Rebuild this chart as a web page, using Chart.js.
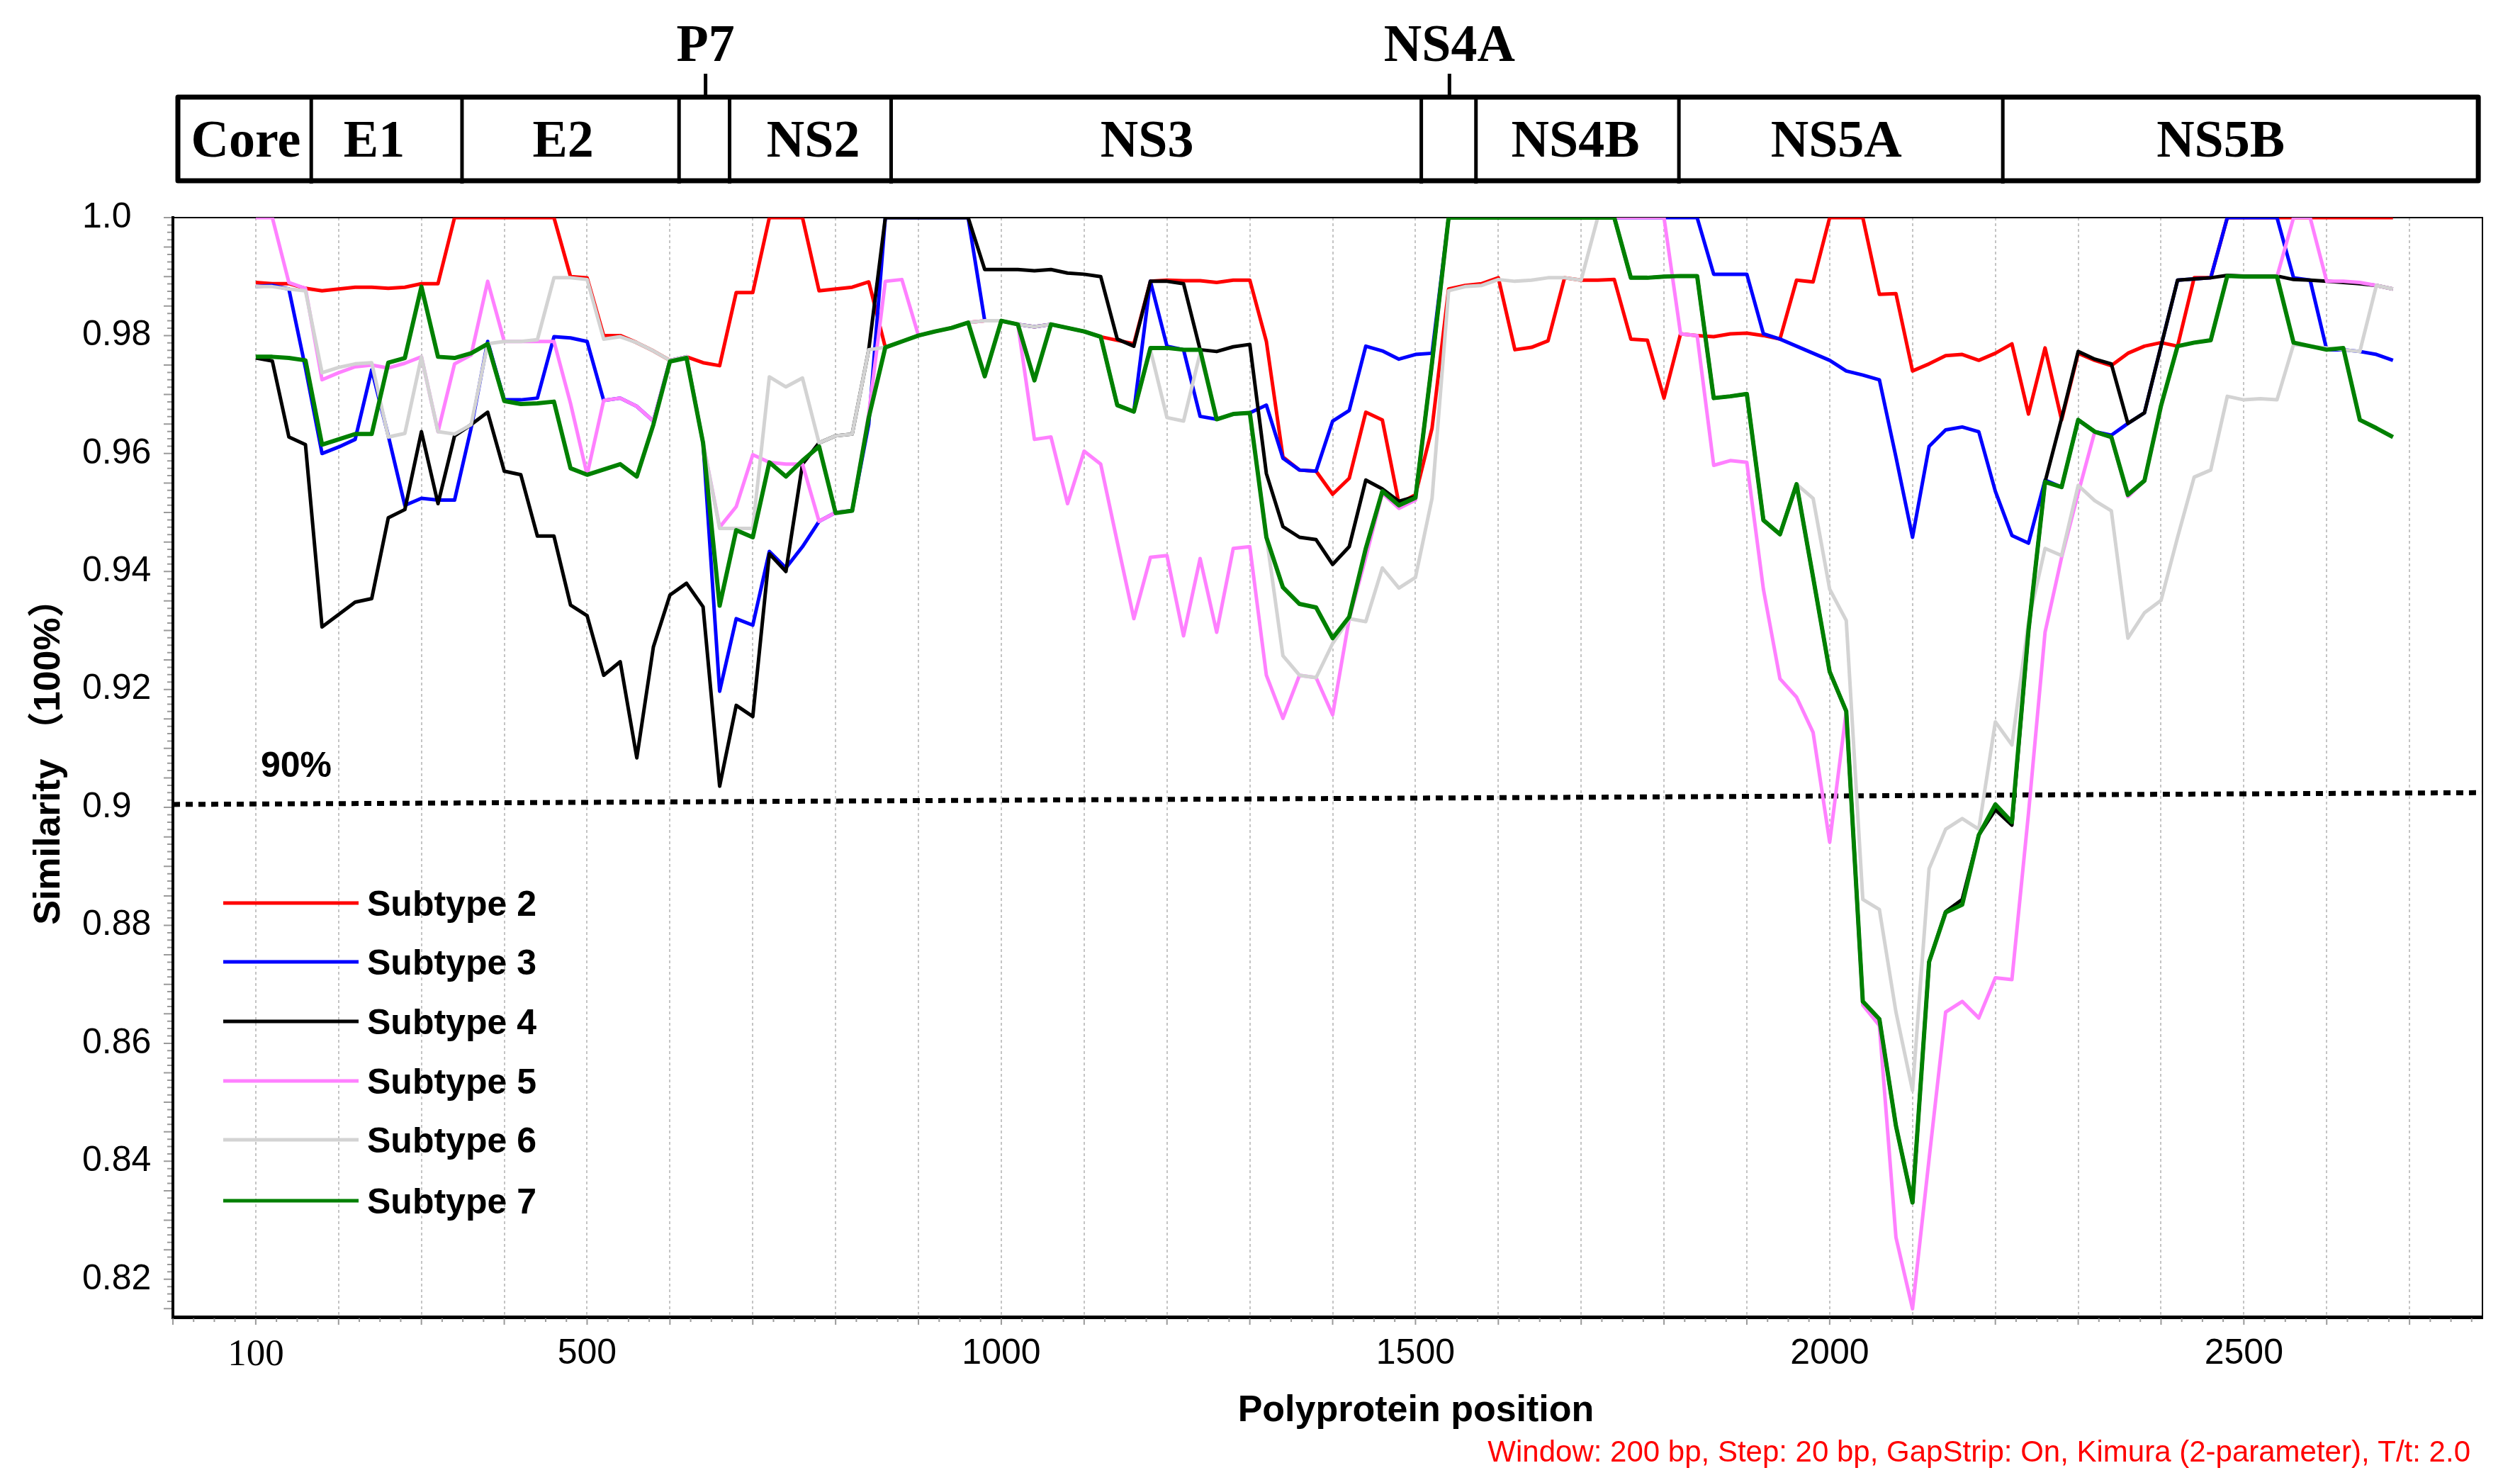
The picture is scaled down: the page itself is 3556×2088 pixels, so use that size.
<!DOCTYPE html>
<html>
<head>
<meta charset="utf-8">
<title>HCV subtype similarity plot</title>
<script src="https://cdn.jsdelivr.net/npm/chart.js@4.4.0/dist/chart.umd.min.js"></script>
<style>
  html, body { margin: 0; padding: 0; background: #fff; overflow: hidden; }
  canvas { display: block; }
</style>
</head>
<body>
<canvas id="plot" width="3556" height="2088"></canvas>
<script>
// window midpoints, 200 bp window moved by 20 bp
var positions = [];
for (var p = 100; p <= 2680; p += 20) positions.push(p);

// one row = 10 windows = 200 bp
var subtype2 = [
  0.989, 0.9888, 0.9888, 0.988, 0.9876, 0.9879, 0.9882, 0.9882, 0.988, 0.9882,
  0.9888, 0.9888, 1, 1, 1, 1, 1, 1, 1, 0.990,
  0.9898, 0.980, 0.980, 0.9788, 0.9774, 0.9758, 0.9764, 0.9754, 0.9749, 0.9873,
  0.9873, 1, 1, 1, 0.9876, 0.9879, 0.9882, 0.9891, 0.978, 0.979,
  0.980, 0.9807, 0.9813, 0.9822, 0.9825, 0.9825, 0.9819, 0.9815, 0.9819, 0.9813,
  0.9807, 0.9798, 0.9792, 0.9786, 0.9892, 0.9894, 0.9893, 0.9893, 0.989, 0.9894,
  0.9894, 0.979, 0.9594, 0.9572, 0.957, 0.9531, 0.9558, 0.967, 0.9657, 0.9515,
  0.953, 0.9643, 0.9879, 0.9885, 0.9888, 0.9898, 0.9776, 0.978, 0.9791, 0.9898,
  0.9894, 0.9894, 0.9895, 0.9794, 0.9792, 0.9694, 0.9803, 0.980, 0.9798, 0.9803,
  0.9804, 0.980, 0.9794, 0.9894, 0.9891, 1, 1, 1, 0.987, 0.9871,
  0.974, 0.9752, 0.9766, 0.9768, 0.9758, 0.977, 0.9786, 0.9667, 0.9779, 0.9657,
  0.977, 0.9758, 0.9749, 0.977, 0.9782, 0.9788, 0.9782, 0.9898, 0.9898, 1,
  1, 1, 1, 1, 1, 1, 1, 1, 1, 1
];
var subtype3 = [
  0.9883, 0.9885, 0.9879, 0.9745, 0.960, 0.9611, 0.9624, 0.9742, 0.963, 0.9512,
  0.9524, 0.9521, 0.9521, 0.9643, 0.979, 0.9691, 0.9691, 0.9694, 0.9798, 0.9796,
  0.979, 0.969, 0.9694, 0.968, 0.9655, 0.9758, 0.9764, 0.9618, 0.9197, 0.932,
  0.9309, 0.9434, 0.9406, 0.9442, 0.9485, 0.950, 0.9503, 0.965, 1, 1,
  1, 1, 1, 1, 0.9825, 0.9825, 0.9819, 0.9815, 0.9819, 0.9813,
  0.9807, 0.9798, 0.9682, 0.9671, 0.9892, 0.9782, 0.9776, 0.9663, 0.9658, 0.9667,
  0.9669, 0.9682, 0.9592, 0.9572, 0.957, 0.9655, 0.9673, 0.9782, 0.9774, 0.976,
  0.9768, 0.977, 1, 1, 1, 1, 1, 1, 1, 1,
  1, 1, 1, 1, 1, 1, 1, 1, 0.9904, 0.9904,
  0.9904, 0.9803, 0.9794, 0.9782, 0.977, 0.9758, 0.974, 0.9733, 0.9725, 0.9594,
  0.9458, 0.9612, 0.964, 0.9645, 0.9637, 0.9536, 0.9461, 0.9448, 0.9555, 0.9543,
  0.9657, 0.9637, 0.9631, 0.9651, 0.9669, 0.9782, 0.9894, 0.9896, 0.9898, 1,
  1, 1, 1, 0.9898, 0.9894, 0.9776, 0.9776, 0.9773, 0.9768, 0.9758
];
var subtype4 = [
  0.9762, 0.9757, 0.9628, 0.9615, 0.9306, 0.9327, 0.9348, 0.9354, 0.9491, 0.9505,
  0.9637, 0.9515, 0.963, 0.9649, 0.967, 0.957, 0.9564, 0.946, 0.946, 0.9343,
  0.9325, 0.9224, 0.9247, 0.9084, 0.9272, 0.936, 0.938, 0.934, 0.9036, 0.9173,
  0.9154, 0.943, 0.940, 0.9582, 0.9618, 0.963, 0.9633, 0.9776, 1, 1,
  1, 1, 1, 1, 0.9912, 0.9912, 0.9912, 0.991, 0.9912, 0.9906,
  0.9904, 0.990, 0.9794, 0.9782, 0.9892, 0.9892, 0.9888, 0.9776, 0.9773, 0.9781,
  0.9785, 0.9566, 0.9476, 0.9458, 0.9454, 0.9412, 0.9442, 0.9555, 0.954, 0.9519,
  0.9527, 0.9754, 1, 1, 1, 1, 1, 1, 1, 1,
  1, 1, 1, 0.9898, 0.9898, 0.990, 0.9901, 0.9901, 0.9694, 0.9697,
  0.9701, 0.9487, 0.9463, 0.9548, 0.939, 0.923, 0.9163, 0.8671, 0.8641, 0.846,
  0.833, 0.8738, 0.8823, 0.8844, 0.8953, 0.8996, 0.897, 0.93, 0.9552, 0.966,
  0.9773, 0.976, 0.9752, 0.9651, 0.9669, 0.9782, 0.9894, 0.9896, 0.9898, 0.9902,
  0.9901, 0.9901, 0.9901, 0.9895, 0.9894, 0.9892, 0.989, 0.9888, 0.9885, 0.9879
];
var subtype5 = [
  1, 1, 0.989, 0.988, 0.9725, 0.9737, 0.9747, 0.975, 0.9745, 0.9753,
  0.9764, 0.9637, 0.9752, 0.9767, 0.9892, 0.979, 0.979, 0.979, 0.979, 0.9685,
  0.9564, 0.969, 0.9694, 0.968, 0.9655, 0.9758, 0.9764, 0.9618, 0.9475, 0.951,
  0.9598, 0.9585, 0.9582, 0.9582, 0.9485, 0.950, 0.9503, 0.9667, 0.9892, 0.9895,
  0.980, 0.9807, 0.9813, 0.9822, 0.9825, 0.9825, 0.9819, 0.9624, 0.9628, 0.9515,
  0.9604, 0.9582, 0.945, 0.932, 0.9424, 0.9427, 0.9291, 0.9422, 0.9297, 0.9439,
  0.9442, 0.9224, 0.9151, 0.9224, 0.922, 0.9157, 0.932, 0.9424, 0.9533, 0.9507,
  0.9521, 0.9754, 1, 1, 1, 1, 1, 1, 1, 1,
  1, 1, 1, 1, 1, 1, 0.9803, 0.980, 0.958, 0.9588,
  0.9585, 0.937, 0.9218, 0.9187, 0.9127, 0.8941, 0.9163, 0.8665, 0.863, 0.8271,
  0.815, 0.8404, 0.8653, 0.8671, 0.8643, 0.8711, 0.8708, 0.899, 0.9297, 0.9424,
  0.9533, 0.9637, 0.9628, 0.9527, 0.9554, 0.968, 0.9782, 0.9788, 0.9792, 0.9901,
  0.99, 0.99, 0.99, 1, 1, 0.9892, 0.9892, 0.989, 0.9885, 0.9879
];
var subtype6 = [
  0.9883, 0.9883, 0.9879, 0.9876, 0.9737, 0.9746, 0.9752, 0.9754, 0.9628, 0.9634,
  0.9764, 0.9637, 0.9633, 0.9649, 0.9786, 0.979, 0.979, 0.9793, 0.9898, 0.9898,
  0.9895, 0.9794, 0.9798, 0.9788, 0.9774, 0.9758, 0.9764, 0.9618, 0.9473, 0.9473,
  0.9473, 0.973, 0.9713, 0.9728, 0.9618, 0.963, 0.9633, 0.9776, 0.978, 0.979,
  0.980, 0.9807, 0.9813, 0.9822, 0.9825, 0.9825, 0.9819, 0.9815, 0.9819, 0.9813,
  0.9807, 0.9798, 0.9682, 0.9671, 0.9776, 0.9661, 0.9655, 0.977, 0.9658, 0.9667,
  0.9669, 0.946, 0.9257, 0.9224, 0.922, 0.9278, 0.932, 0.9315, 0.9406, 0.9372,
  0.939, 0.9524, 0.9876, 0.9883, 0.9885, 0.9895, 0.9892, 0.9894, 0.9898, 0.9898,
  0.9894, 1, 1, 0.9898, 0.9898, 0.990, 0.9901, 0.9901, 0.9694, 0.9697,
  0.9701, 0.9487, 0.9463, 0.9548, 0.9524, 0.937, 0.9317, 0.8844, 0.8827, 0.8653,
  0.852, 0.8896, 0.8963, 0.8981, 0.8963, 0.9145, 0.9106, 0.9315, 0.9439, 0.9427,
  0.9546, 0.952, 0.9503, 0.9287, 0.933, 0.9351, 0.9458, 0.956, 0.9572, 0.9697,
  0.9691, 0.9693, 0.9691, 0.9785, 0.9782, 0.9779, 0.9776, 0.9773, 0.9885, 0.9879
];
var subtype7 = [
  0.9764, 0.9764, 0.9762, 0.9758, 0.9615, 0.9624, 0.9633, 0.9633, 0.9754, 0.9762,
  0.9883, 0.9764, 0.9762, 0.977, 0.9786, 0.9689, 0.9684, 0.9685, 0.9688, 0.9575,
  0.9564, 0.9573, 0.9582, 0.9561, 0.9649, 0.9756, 0.9762, 0.9618, 0.9342, 0.947,
  0.9458, 0.9585, 0.9561, 0.9588, 0.9612, 0.9499, 0.9503, 0.9661, 0.978, 0.979,
  0.980, 0.9807, 0.9813, 0.9822, 0.9731, 0.9825, 0.9819, 0.9724, 0.9819, 0.9813,
  0.9807, 0.9798, 0.9682, 0.9671, 0.9779, 0.9779, 0.9776, 0.9776, 0.9658, 0.9667,
  0.9669, 0.9458, 0.9373, 0.9345, 0.9339, 0.9287, 0.9323, 0.9439, 0.9536, 0.9512,
  0.9525, 0.9754, 1, 1, 1, 1, 1, 1, 1, 1,
  1, 1, 1, 0.9898, 0.9898, 0.990, 0.9901, 0.9901, 0.9694, 0.9697,
  0.9701, 0.9487, 0.9463, 0.9548, 0.939, 0.923, 0.9163, 0.8671, 0.8641, 0.846,
  0.833, 0.8738, 0.8822, 0.8835, 0.8953, 0.9005, 0.8975, 0.93, 0.9552, 0.9543,
  0.9657, 0.9637, 0.9628, 0.953, 0.9554, 0.9681, 0.9782, 0.9788, 0.9792, 0.9901,
  0.99, 0.99, 0.99, 0.9788, 0.9782, 0.9776, 0.9779, 0.9657, 0.9643, 0.9628
];
var seriesNames = ['Subtype 2', 'Subtype 3', 'Subtype 4', 'Subtype 5', 'Subtype 6', 'Subtype 7'];

// the hand drawn 90% cut-off, value at the left and right end of the axis
var cutoffEnds = [0.9005, 0.9025];

var xLabelValues = [100, 500, 1000, 1500, 2000, 2500];
var yTickValues = [0.82, 0.84, 0.86, 0.88, 0.90, 0.92, 0.94, 0.96, 0.98, 1.0];
var yTickLabels = ['0.82', '0.84', '0.86', '0.88', '0.9', '0.92', '0.94', '0.96', '0.98', '1.0'];

// genome map above the plot, in polyprotein positions
var geneNames = ['Core', 'E1', 'E2', 'P7', 'NS2', 'NS3', 'NS4A', 'NS4B', 'NS5A', 'NS5B'];
var geneBounds = [6, 167, 349, 611, 672, 867, 1507, 1573, 1818, 2209, 2783];
var geneLabelAt = [88, 243, 471, 643, 773, 1176, 1541, 1693, 2008, 2472];

var lineColors = ['#ff0000', '#0000ff', '#000000', '#ff80ff', '#d3d3d3', '#008000'];
var SANS = '"Liberation Sans", Arial, "Noto Sans CJK SC", sans-serif';
var SERIF = '"Liberation Serif", "Times New Roman", serif';

var allSeries = [subtype2, subtype3, subtype4, subtype5, subtype6, subtype7];
var datasets = allSeries.map(function (vals, i) {
    return {
        label: seriesNames[i],
        data: vals.map(function (v, k) { return { x: positions[k], y: v }; }),
        borderColor: lineColors[i],
        borderWidth: i == 5 ? 6 : 5,
        pointRadius: 0,
        tension: 0,
        borderJoinStyle: 'round',
        order: 6 - i
    };
});
datasets.push({
    label: '90%',
    data: [{ x: 0, y: cutoffEnds[0] }, { x: 2788, y: cutoffEnds[1] }],
    borderColor: '#000',
    borderWidth: 7,
    borderDash: [10, 8],
    pointRadius: 0,
    order: 7
});

var decorations = {
    id: 'decorations',
    beforeDatasetsDraw: function (chart) {
        var ctx = chart.ctx;
        var a = chart.chartArea;
        var xs = chart.scales.x;
        var ys = chart.scales.y;
        ctx.save();
        // thin frame on top and right
        ctx.strokeStyle = '#000';
        ctx.lineWidth = 2;
        ctx.beginPath();
        ctx.moveTo(a.left, a.top);
        ctx.lineTo(a.right, a.top);
        ctx.lineTo(a.right, a.bottom);
        ctx.stroke();
        // small ticks outside the axes
        ctx.strokeStyle = '#9a9a9a';
        ctx.lineWidth = 2;
        ctx.beginPath();
        for (var k = 0; k <= 148; k++) {
            var yy = ys.getPixelForValue(0.815 + k * 0.00125);
            var len = (k % 4 == 0) ? 11 : 6;
            ctx.moveTo(a.left - 2 - len, yy);
            ctx.lineTo(a.left - 2, yy);
        }
        for (var u = 0; u <= 2775; u += 25) {
            var xx = xs.getPixelForValue(u);
            var tl = (u % 100 == 0) ? 9 : 5;
            ctx.moveTo(xx, a.bottom + 2);
            ctx.lineTo(xx, a.bottom + 2 + tl);
        }
        ctx.stroke();
        ctx.restore();
    },
    afterDraw: function (chart) {
        var ctx = chart.ctx;
        var xs = chart.scales.x;
        ctx.save();

        // genome map
        var boxTop = 137, boxBottom = 255;
        var x0 = xs.getPixelForValue(geneBounds[0]);
        var x1 = xs.getPixelForValue(geneBounds[geneBounds.length - 1]);
        ctx.strokeStyle = '#000';
        ctx.lineWidth = 7;
        ctx.lineJoin = 'round';
        ctx.strokeRect(x0, boxTop, x1 - x0, boxBottom - boxTop);
        ctx.lineWidth = 5;
        ctx.beginPath();
        for (var i = 1; i < geneBounds.length - 1; i++) {
            var bx = xs.getPixelForValue(geneBounds[i]);
            ctx.moveTo(bx, boxTop);
            ctx.lineTo(bx, boxBottom + 4);
        }
        ctx.stroke();
        ctx.fillStyle = '#000';
        ctx.textAlign = 'center';
        ctx.textBaseline = 'alphabetic';
        ctx.font = 'bold 74px ' + SERIF;
        for (var g = 0; g < geneNames.length; g++) {
            var lx = xs.getPixelForValue(geneLabelAt[g]);
            var wide = geneBounds[g + 1] - geneBounds[g] > 100;
            if (wide) {
                ctx.fillText(geneNames[g], lx, 221);
            } else {
                ctx.fillText(geneNames[g], lx, 86);
                ctx.beginPath();
                ctx.moveTo(lx, 104);
                ctx.lineTo(lx, boxTop);
                ctx.stroke();
            }
        }

        // legend
        var legendY = [1274, 1357, 1441, 1525, 1608, 1694];
        ctx.textAlign = 'left';
        ctx.font = 'bold 50px ' + SANS;
        for (var s = 0; s < 6; s++) {
            var ds = chart.data.datasets[s];
            ctx.strokeStyle = ds.borderColor;
            ctx.lineWidth = 5;
            ctx.beginPath();
            ctx.moveTo(315, legendY[s]);
            ctx.lineTo(506, legendY[s]);
            ctx.stroke();
            ctx.fillStyle = '#000';
            ctx.fillText(ds.label, 518, legendY[s] + 18);
        }

        // 90% label
        ctx.font = 'bold 50px ' + SANS;
        ctx.fillText('90%', 368, 1096);

        // axis titles
        ctx.textAlign = 'center';
        ctx.font = 'bold 52px ' + SANS;
        ctx.fillText('Polyprotein position', 1998, 2005);
        ctx.save();
        ctx.translate(84, 1062);
        ctx.rotate(-Math.PI / 2);
        ctx.fillText('Similarity （100%）', 0, 0);
        ctx.restore();

        // run settings
        ctx.textAlign = 'right';
        ctx.fillStyle = '#ff0000';
        ctx.font = '42px ' + SANS;
        ctx.fillText('Window: 200 bp, Step: 20 bp, GapStrip: On, Kimura (2-parameter), T/t: 2.0', 3486, 2062);
        ctx.restore();
    }
};

var ctx = document.getElementById('plot').getContext('2d');
var simChart = new Chart(ctx, {
    type: 'line',
    data: { datasets: datasets },
    options: {
        responsive: false,
        devicePixelRatio: 1,
        animation: false,
        layout: { padding: { left: 116, right: 53, top: 307, bottom: 0 } },
        plugins: { legend: { display: false }, tooltip: { enabled: false } },
        scales: {
            x: {
                type: 'linear',
                min: 0,
                max: 2788,
                afterBuildTicks: function (scale) {
                    var t = [];
                    for (var v = 0; v <= 2700; v += 100) t.push({ value: v });
                    scale.ticks = t;
                },
                afterFit: function (scale) { scale.height = 230; },
                grid: { color: '#c4c4c4', lineWidth: 2, drawTicks: false },
                border: { display: true, color: '#000', width: 5, dash: [4, 4] },
                ticks: {
                    autoSkip: false,
                    maxRotation: 0,
                    padding: 22,
                    color: '#000',
                    font: function (c) {
                        if (c.tick && c.tick.value == 100) return { family: SERIF, size: 53 };
                        return { family: SANS, size: 50 };
                    },
                    callback: function (value) {
                        return xLabelValues.indexOf(value) >= 0 ? String(value) : '';
                    }
                }
            },
            y: {
                type: 'linear',
                min: 0.8136,
                max: 1.0,
                afterBuildTicks: function (scale) {
                    scale.ticks = yTickValues.map(function (v) { return { value: v }; });
                },
                afterFit: function (scale) { scale.width = 128; },
                grid: { display: false, drawTicks: false },
                border: { display: true, color: '#000', width: 4 },
                ticks: {
                    crossAlign: 'far',
                    color: '#000',
                    font: { family: SANS, size: 50 },
                    callback: function (value, index) { return yTickLabels[index]; }
                }
            }
        }
    },
    plugins: [decorations]
});
</script>
</body>
</html>
